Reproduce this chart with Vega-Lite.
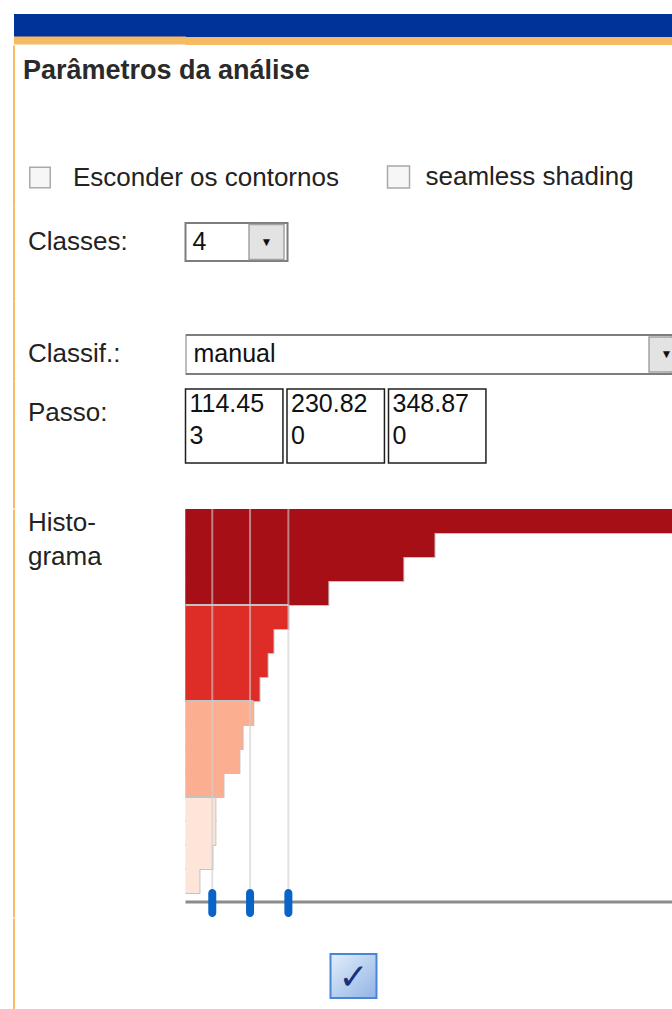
{
  "$schema": "https://vega.github.io/schema/vega-lite/v6.json",
  "background": "white",
  "padding": {"left": 1.5, "top": 13, "right": 0, "bottom": 0},
  "config": {"view": {"stroke": null}, "axis": {"minExtent": 0}, "font": "Liberation Sans"},
  "datasets": {
    "cabecalho": [{"barra": "cabeçalho"}],
    "opcoes": [{"opcao": "Esconder os contornos"}, {"opcao": "seamless shading"}],
    "classes": [{"campo": "Classes:", "valor": "4"}],
    "classif": [{"campo": "Classif.:", "valor": "manual"}],
    "quebras": [
      {"campo": "Passo:", "quebra": 114.453, "linhas": ["114.45", "3"]},
      {"campo": "Passo:", "quebra": 230.82, "linhas": ["230.82", "0"]},
      {"campo": "Passo:", "quebra": 348.87, "linhas": ["348.87", "0"]}
    ],
    "histograma": [
      {"pos": 1, "valor": 1600, "classe": 4},
      {"pos": 2, "valor": 799, "classe": 4},
      {"pos": 3, "valor": 703, "classe": 4},
      {"pos": 4, "valor": 472, "classe": 4},
      {"pos": 5, "valor": 349, "classe": 3},
      {"pos": 6, "valor": 303, "classe": 3},
      {"pos": 7, "valor": 285, "classe": 3},
      {"pos": 8, "valor": 260, "classe": 3},
      {"pos": 9, "valor": 241, "classe": 2},
      {"pos": 10, "valor": 208, "classe": 2},
      {"pos": 11, "valor": 198, "classe": 2},
      {"pos": 12, "valor": 149, "classe": 2},
      {"pos": 13, "valor": 124, "classe": 1},
      {"pos": 14, "valor": 124, "classe": 1},
      {"pos": 15, "valor": 115, "classe": 1},
      {"pos": 16, "valor": 75, "classe": 1}
    ],
    "botao": [{"acao": "aplicar"}]
  },
  "spacing": 0,
  "vconcat": [
    {
      "width": 487,
      "height": 31,
      "data": {"name": "cabecalho"},
      "layer": [
        {
          "mark": {"type": "rect", "fill": "#003399"},
          "encoding": {
            "x": {"field": "barra", "type": "nominal", "scale": {"paddingInner": 0, "paddingOuter": 0}, "axis": null},
            "y": {"field": "barra", "type": "nominal", "scale": {"paddingInner": 0, "paddingOuter": 0.174, "align": 0},
              "axis": {"orient": "left", "offset": 0, "domain": false, "labels": false, "ticks": true, "tickSize": 172, "tickWidth": 23, "tickColor": "#003399", "tickCap": "butt", "grid": false, "title": null, "minExtent": 0}}
          }
        },
        {
          "mark": {"type": "rect", "fill": "#f5bb63"},
          "encoding": {
            "x": {"field": "barra", "type": "nominal", "axis": null},
            "y": {"field": "barra", "type": "nominal", "scale": {"paddingInner": 0.3043, "paddingOuter": 1, "align": 1},
              "axis": {"orient": "left", "offset": 0, "domain": false, "labels": false, "ticks": true, "tickSize": 172, "tickWidth": 8, "tickColor": "#f5bb63", "tickCap": "butt", "grid": false, "title": null, "minExtent": 0}}
          }
        }
      ],
      "resolve": {"scale": {"y": "independent"}, "axis": {"y": "independent"}}
    },
    {
      "width": 487,
      "height": 161,
      "data": {"name": "opcoes"},
      "layer": [
        {
          "transform": [{"filter": "datum.opcao == 'Esconder os contornos'"}],
          "mark": {"type": "point", "opacity": 0},
          "encoding": {
            "y": {"field": "opcao", "type": "nominal", "scale": {"type": "point", "align": 0.82},
              "axis": {"orient": "left", "offset": 172, "domainColor": "#f9b968", "domainWidth": 2, "ticks": false, "tickSize": 0, "grid": false,
                "labelAlign": "left", "labelPadding": -59, "labelFont": "Liberation Sans", "labelFontSize": 26, "labelColor": "#222222", "labelLimit": 0,
                "title": "Parâmetros da análise", "titleAngle": 0, "titleAlign": "left", "titleBaseline": "alphabetic", "titleX": 9, "titleY": 33,
                "titleFont": "Liberation Sans", "titleFontSize": 27, "titleFontWeight": "bold", "titleColor": "#2a2a2a", "titleLimit": 1000, "minExtent": 0}}
          }
        },
        {
          "transform": [{"filter": "datum.opcao == 'Esconder os contornos'"}],
          "mark": {"type": "point", "opacity": 0},
          "encoding": {
            "y": {"field": "opcao", "type": "nominal", "scale": {"type": "point", "align": 0.82},
              "axis": {"orient": "left", "offset": 135, "domain": false, "labels": false, "ticks": true, "tickSize": 22, "tickWidth": 22, "tickColor": "#a9a9a9", "tickCap": "butt", "grid": false, "title": null, "minExtent": 0}}
          }
        },
        {
          "transform": [{"filter": "datum.opcao == 'Esconder os contornos'"}],
          "mark": {"type": "point", "opacity": 0},
          "encoding": {
            "y": {"field": "opcao", "type": "nominal", "scale": {"type": "point", "align": 0.82},
              "axis": {"orient": "left", "offset": 136.5, "domain": false, "labels": false, "ticks": true, "tickSize": 19, "tickWidth": 19, "tickColor": "#f6f6f6", "tickCap": "butt", "grid": false, "title": null, "minExtent": 0}}
          }
        },
        {
          "transform": [{"filter": "datum.opcao == 'seamless shading'"}],
          "encoding": {
            "x": {"field": "opcao", "type": "nominal", "scale": {"type": "point", "align": 0.4374}, "axis": null},
            "y": {"field": "opcao", "type": "nominal", "scale": {"type": "point", "align": 0.82}, "axis": null}
          },
          "layer": [
            {"mark": {"type": "point", "shape": "square", "size": 484, "filled": true, "fill": "#f6f6f6", "stroke": "#a9a9a9", "strokeWidth": 1.5, "opacity": 1}},
            {"mark": {"type": "text", "align": "left", "baseline": "middle", "dx": 27, "fontSize": 26, "font": "Liberation Sans", "color": "#222222"},
              "encoding": {"text": {"field": "opcao", "type": "nominal"}}}
          ]
        }
      ],
      "resolve": {"scale": {"y": "independent", "x": "independent"}, "axis": {"y": "independent"}}
    },
    {
      "width": 487,
      "height": 95,
      "data": {"name": "classes"},
      "encoding": {
        "y": {"field": "campo", "type": "nominal", "scale": {"paddingInner": 0, "paddingOuter": 0.75, "align": 0.298},
          "axis": {"orient": "left", "offset": 172, "domainColor": "#f9b968", "domainWidth": 2, "ticks": false, "tickSize": 0, "grid": false,
            "labelAlign": "left", "labelPadding": -14, "labelFont": "Liberation Sans", "labelFontSize": 26, "labelColor": "#222222", "labelLimit": 0, "title": null, "minExtent": 0}}
      },
      "layer": [
        {"mark": {"type": "rect", "fill": "white", "stroke": "#7d7d7d", "strokeWidth": 2},
          "encoding": {"x": {"field": "valor", "type": "nominal", "scale": {"paddingInner": 0.47, "paddingOuter": 1, "align": 0}, "axis": null}}},
        {"mark": {"type": "point", "shape": "square", "size": 1225, "filled": true, "fill": "#e3e3e3", "stroke": "#a3a3a3", "strokeWidth": 1.5, "opacity": 1},
          "encoding": {"x": {"field": "valor", "type": "nominal", "bandPosition": 0.794, "axis": null}}},
        {"mark": {"type": "text", "fontSize": 12, "color": "#111111", "baseline": "middle"},
          "encoding": {"x": {"field": "valor", "type": "nominal", "bandPosition": 0.794, "axis": null}, "text": {"value": "▼"}}},
        {"mark": {"type": "text", "align": "left", "baseline": "middle", "dx": 7, "fontSize": 25, "font": "Liberation Sans", "color": "#111111"},
          "encoding": {"x": {"field": "valor", "type": "nominal", "bandPosition": 0, "axis": null}, "text": {"field": "valor", "type": "nominal"}}}
      ]
    },
    {
      "width": 487,
      "height": 80,
      "data": {"name": "classif"},
      "encoding": {
        "y": {"field": "campo", "type": "nominal", "scale": {"paddingInner": 0, "paddingOuter": 0.5256, "align": 0.829},
          "axis": {"orient": "left", "offset": 172, "domainColor": "#f9b968", "domainWidth": 2, "ticks": false, "tickSize": 0, "grid": false,
            "labelAlign": "left", "labelPadding": -14, "labelFont": "Liberation Sans", "labelFontSize": 26, "labelColor": "#222222", "labelLimit": 0, "title": null, "minExtent": 0}}
      },
      "layer": [
        {"mark": {"type": "rect", "fill": "white", "stroke": "#7d7d7d", "strokeWidth": 2, "clip": true},
          "encoding": {"x": {"field": "valor", "type": "nominal", "scale": {"paddingInner": 0, "paddingOuter": 0}, "axis": null}}},
        {"mark": {"type": "point", "shape": "square", "size": 1225, "filled": true, "fill": "#e3e3e3", "stroke": "#a3a3a3", "strokeWidth": 1.5, "opacity": 1, "clip": true},
          "encoding": {"x": {"field": "valor", "type": "nominal", "bandPosition": 0.9877, "axis": null}}},
        {"mark": {"type": "text", "fontSize": 12, "color": "#111111", "baseline": "middle", "clip": true},
          "encoding": {"x": {"field": "valor", "type": "nominal", "bandPosition": 0.9877, "axis": null}, "text": {"value": "▼"}}},
        {"mark": {"type": "text", "align": "left", "baseline": "middle", "dx": 8, "fontSize": 25, "font": "Liberation Sans", "color": "#111111"},
          "encoding": {"x": {"field": "valor", "type": "nominal", "bandPosition": 0, "axis": null}, "text": {"field": "valor", "type": "nominal"}}}
      ]
    },
    {
      "width": 487,
      "height": 127,
      "data": {"name": "quebras"},
      "encoding": {
        "y": {"field": "campo", "type": "nominal", "scale": {"paddingInner": 0, "paddingOuter": 0.3581, "align": 0.151},
          "axis": {"orient": "left", "offset": 172, "domainColor": "#f9b968", "domainWidth": 2, "ticks": false, "tickSize": 0, "grid": false, "labelOffset": -13,
            "labelAlign": "left", "labelPadding": -14, "labelFont": "Liberation Sans", "labelFontSize": 26, "labelColor": "#222222", "labelLimit": 0, "title": null, "minExtent": 0}}
      },
      "layer": [
        {"mark": {"type": "rect", "fill": "white", "stroke": "#1f1f1f", "strokeWidth": 1.5},
          "encoding": {
            "x": {"field": "quebra", "type": "nominal", "scale": {"paddingInner": 0.04, "paddingOuter": 0.919, "align": 0}, "axis": null}
          }},
        {"mark": {"type": "text", "align": "left", "baseline": "top", "dx": 4, "dy": -34, "lineHeight": 32, "fontSize": 25, "font": "Liberation Sans", "color": "#111111"},
          "encoding": {
            "x": {"field": "quebra", "type": "nominal", "bandPosition": 0, "axis": null},
            "text": {"field": "linhas", "type": "nominal"}
          }}
      ]
    },
    {
      "width": 487,
      "height": 408,
      "encoding": {
        "y": {"field": "pos", "type": "ordinal", "scale": {"type": "band", "domain": [1,2,3,4,5,6,7,8,9,10,11,12,13,14,15,16,17], "paddingInner": 0, "paddingOuter": 0},
          "axis": {"orient": "left", "offset": 172, "domainColor": "#f9b968", "domainWidth": 2, "ticks": false, "tickSize": 0, "labels": false, "grid": false,
            "title": ["Histo-", "grama"], "titleAngle": 0, "titleAlign": "left", "titleBaseline": "alphabetic", "titleX": 14, "titleY": 21,
            "titleFont": "Liberation Sans", "titleFontSize": 26, "titleFontWeight": "normal", "titleLineHeight": 34, "titleColor": "#222222", "minExtent": 0}}
      },
      "layer": [
        {
          "data": {"name": "histograma"},
          "mark": {"type": "bar", "stroke": "#c3c3c3", "strokeWidth": 2, "clip": true},
          "encoding": {
            "x": {"field": "valor", "type": "quantitative", "scale": {"domain": [32, 1532], "nice": false, "zero": false}, "axis": null},
            "color": {"field": "classe", "type": "ordinal", "scale": {"domain": [1, 2, 3, 4], "range": ["#fee5d9", "#fcae91", "#de2d26", "#a50f15"]}, "legend": null}
          }
        },
        {
          "data": {"name": "histograma"},
          "mark": {"type": "bar", "strokeWidth": 0, "clip": true},
          "encoding": {
            "x": {"field": "valor", "type": "quantitative", "axis": null},
            "color": {"field": "classe", "type": "ordinal", "legend": null}
          }
        },
        {
          "data": {"name": "histograma"},
          "transform": [{"filter": "datum.pos == 5 || datum.pos == 9 || datum.pos == 13"}],
          "mark": {"type": "bar", "height": 2, "yOffset": -12, "color": "#c3c3c3", "clip": true},
          "encoding": {
            "x": {"field": "valor", "type": "quantitative", "axis": null}
          }
        },
        {
          "data": {"name": "quebras"},
          "mark": {"type": "rule", "stroke": "#cfcfcf", "strokeWidth": 2, "opacity": 0.6},
          "encoding": {
            "x": {"field": "quebra", "type": "quantitative", "axis": null},
            "y": null
          }
        },
        {
          "data": {"values": [{}]},
          "mark": {"type": "rule", "stroke": "#8c8c8c", "strokeWidth": 3, "yOffset": -3},
          "encoding": {
            "y": {"datum": 17, "type": "ordinal"}
          }
        },
        {
          "data": {"name": "quebras"},
          "mark": {"type": "tick", "orient": "vertical", "size": 28, "thickness": 8, "cornerRadius": 4, "color": "#0a64c8", "opacity": 1, "yOffset": -2},
          "encoding": {
            "x": {"field": "quebra", "type": "quantitative", "axis": null},
            "y": {"datum": 17, "type": "ordinal"}
          }
        }
      ]
    },
    {
      "width": 487,
      "height": 93,
      "data": {"name": "botao"},
      "encoding": {
        "x": {"field": "acao", "type": "nominal", "scale": {"paddingInner": 0.7914, "paddingOuter": 1, "align": 0.3288}, "axis": null},
        "y": {"field": "acao", "type": "nominal", "scale": {"paddingInner": 0, "paddingOuter": 0.5568, "align": 0.7347},
          "axis": {"orient": "left", "offset": 172, "domainColor": "#f9b968", "domainWidth": 2, "ticks": false, "tickSize": 0, "labels": false, "grid": false, "title": null, "minExtent": 0}}
      },
      "layer": [
        {"mark": {"type": "rect", "stroke": "#4a85d8", "strokeWidth": 2,
          "fill": {"gradient": "linear", "x1": 0, "y1": 0, "x2": 1, "y2": 1, "stops": [{"offset": 0, "color": "#e4eefa"}, {"offset": 1, "color": "#8fb4e6"}]}}},
        {"mark": {"type": "text", "font": "DejaVu Sans", "fontSize": 36, "fontWeight": "bold", "color": "#1b2f7c", "baseline": "middle", "dy": 2},
          "encoding": {"text": {"value": "✓"}}}
      ]
    }
  ]
}
